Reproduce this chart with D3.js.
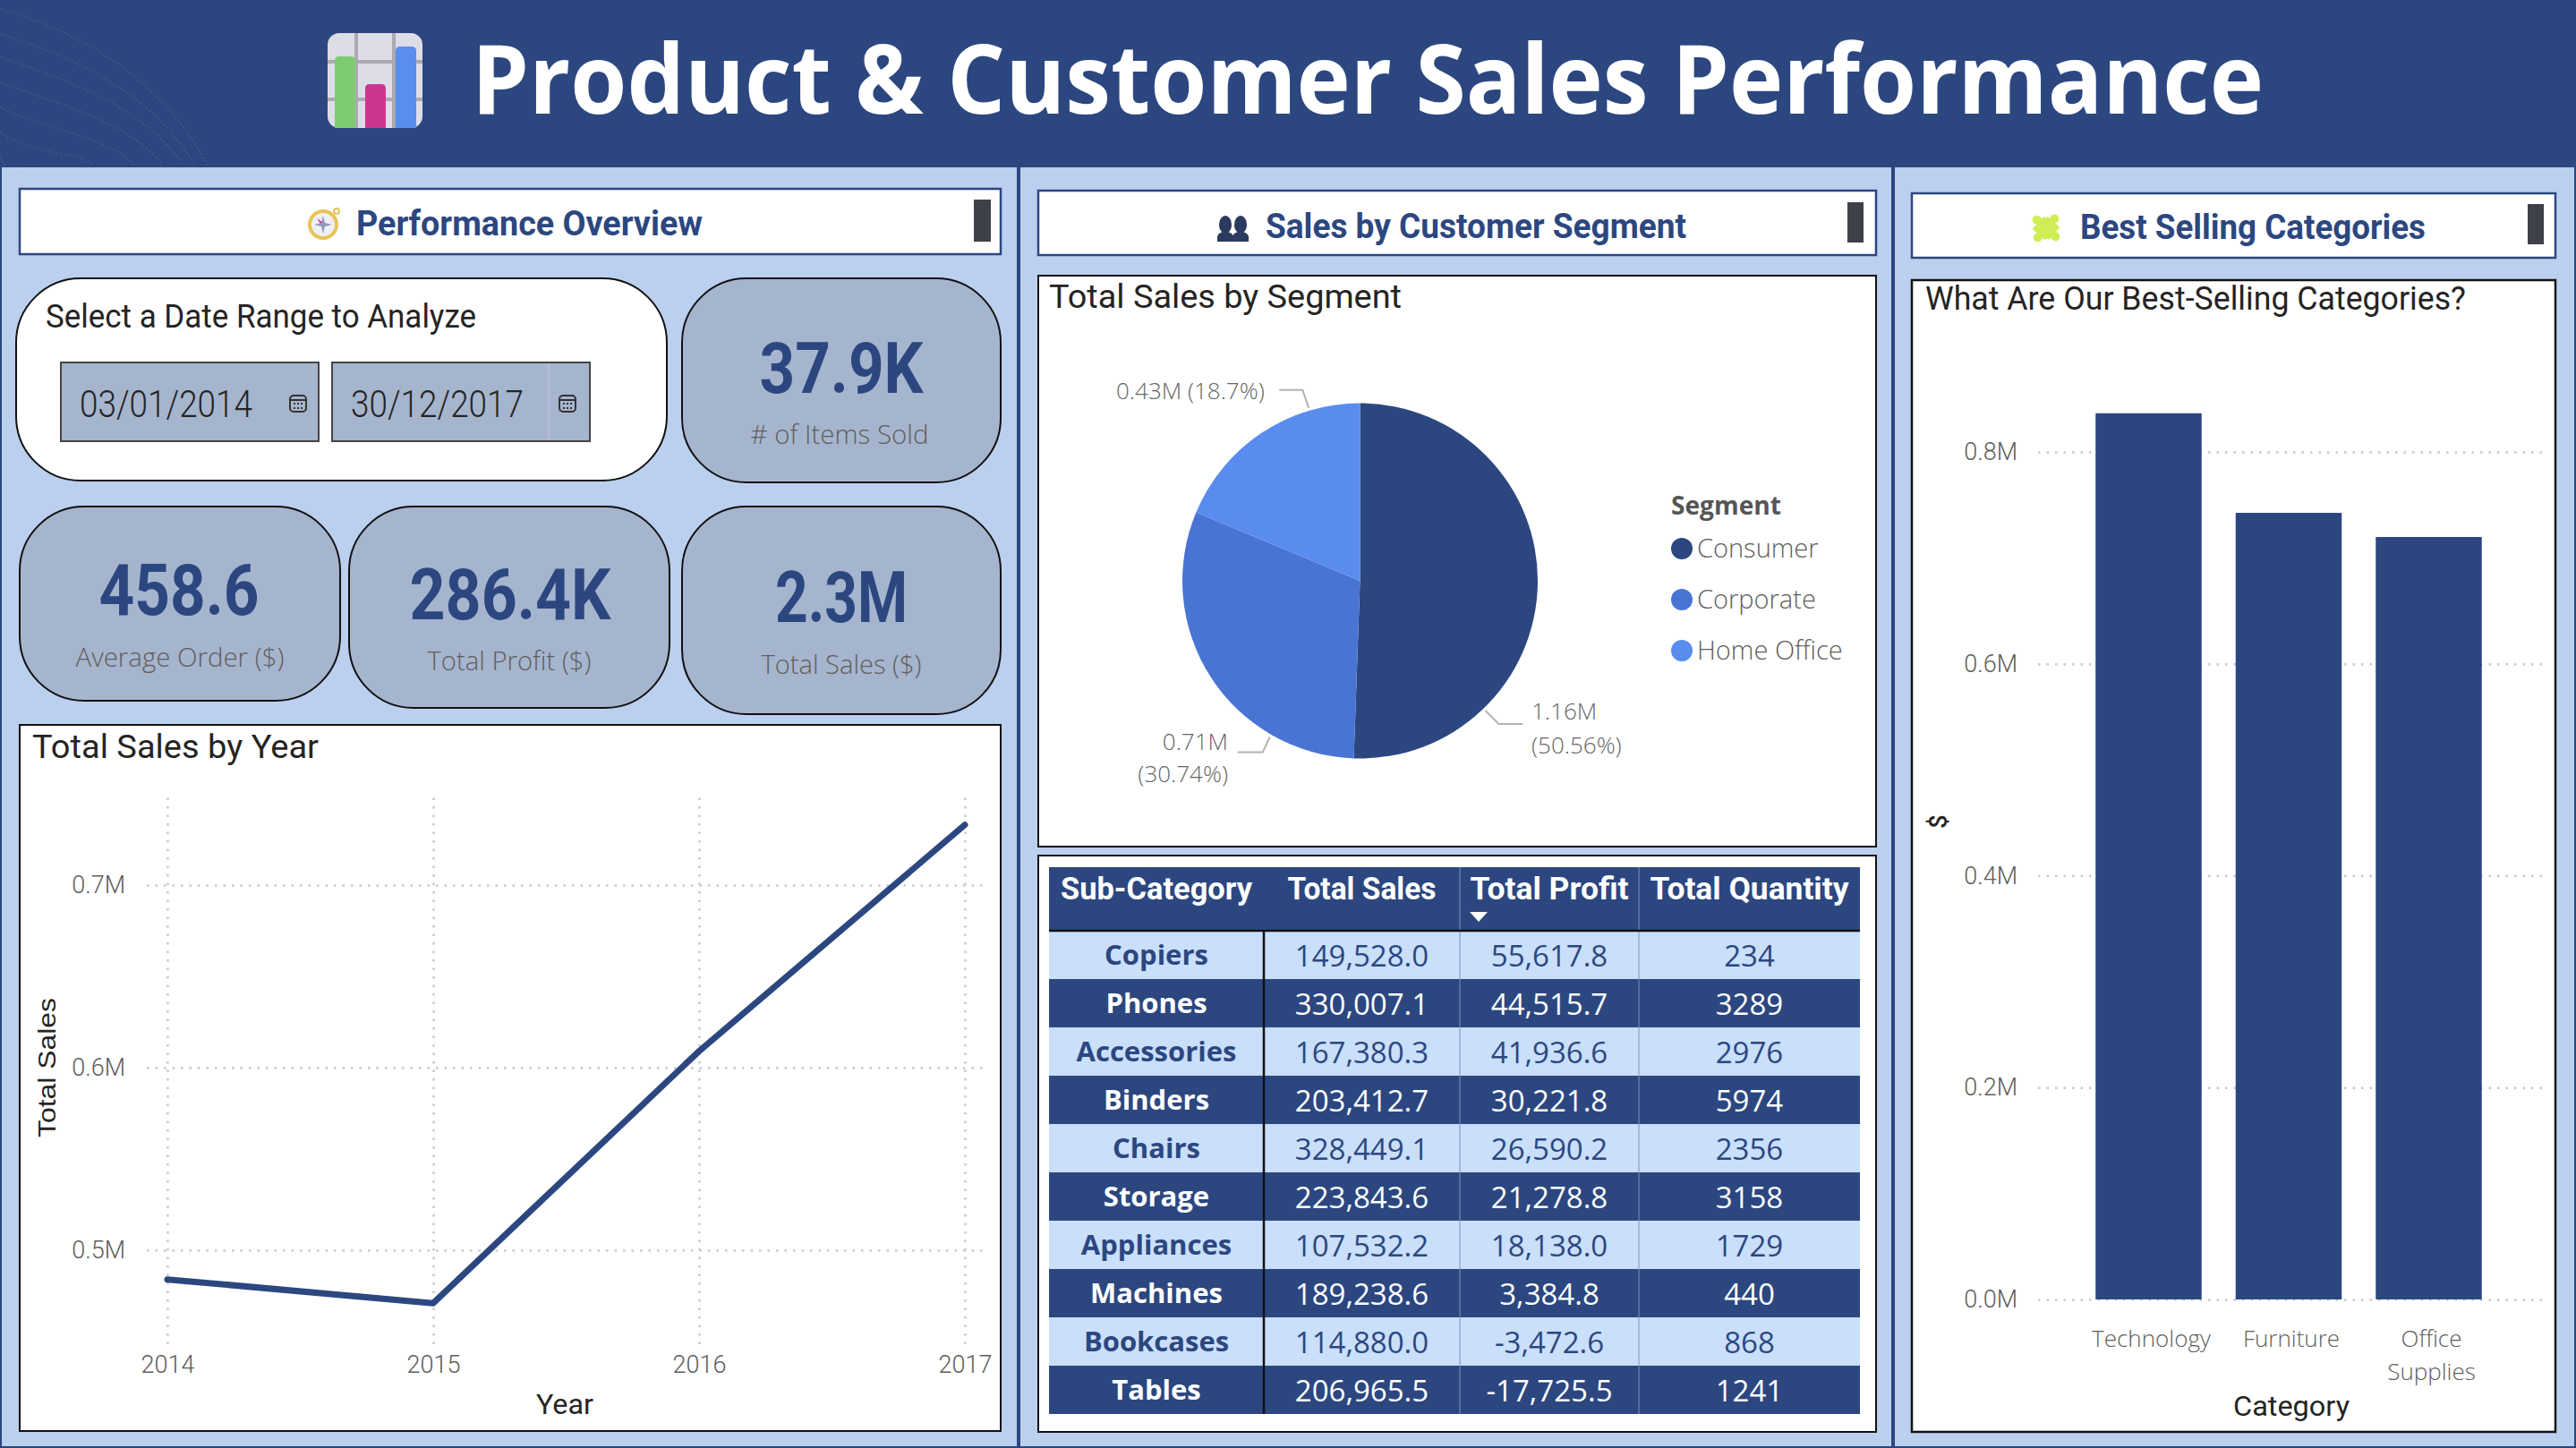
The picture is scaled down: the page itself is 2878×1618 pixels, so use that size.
<!DOCTYPE html>
<html lang="en">
<head>
<meta charset="utf-8">
<style>
  html, body { margin: 0; padding: 0; background: #bbcfee; }
  svg { display: block; }
  .grid line { stroke: #c6c8d6; stroke-width: 2.5; stroke-dasharray: 2.5 7; }
  .grid .domain { display: none; }
</style>
<script src="https://d3js.org/d3.v7.min.js"></script>
</head>
<body>
<svg id="dash" width="2878" height="1618"></svg>
<script>
// data
var years = ["2014", "2015", "2016", "2017"];
var yearSales = [0.484, 0.471, 0.609, 0.733];

var segments = ["Consumer", "Corporate", "Home Office"];
var segmentShare = [50.56, 30.74, 18.7];
var segmentSales = ["1.16M", "0.71M", "0.43M"];

var subCategories = ["Copiers", "Phones", "Accessories", "Binders", "Chairs", "Storage", "Appliances", "Machines", "Bookcases", "Tables"];
var subSales = [149528.0, 330007.1, 167380.3, 203412.7, 328449.1, 223843.6, 107532.2, 189238.6, 114880.0, 206965.5];
var subProfit = [55617.8, 44515.7, 41936.6, 30221.8, 26590.2, 21278.8, 18138.0, 3384.8, -3472.6, -17725.5];
var subQuantity = [234, 3289, 2976, 5974, 2356, 3158, 1729, 440, 868, 1241];
var tableHeaders = ["Sub-Category", "Total Sales", "Total Profit", "Total Quantity"];

var categories = ["Technology", "Furniture", "Office Supplies"];
var categorySales = [0.8365, 0.7425, 0.7197];

var kpiValues = ["37.9K", "458.6", "286.4K", "2.3M"];
var kpiLabels = ["# of Items Sold", "Average Order ($)", "Total Profit ($)", "Total Sales ($)"];
var dateRange = ["03/01/2014", "30/12/2017"];

// colours and fonts
var navy = "#2c4780", panelBg = "#bbcfee", kpiBg = "#a6b5ce", rowLight = "#c9dffa";
var segmentColors = ["#2c4780", "#4a74d3", "#5a8cf0"];
var din = "Roboto, sans-serif", segoe = "'Open Sans', sans-serif";

var svg = d3.select("#dash");

function box(g, x, y, w, h, fill, stroke, sw, r) {
  return g.append("rect").attr("x", x).attr("y", y).attr("width", w).attr("height", h)
    .attr("rx", r || 0).attr("fill", fill).attr("stroke", stroke).attr("stroke-width", sw);
}

// text helper, width squeezes the font to the width measured in the picture
function label(g, x, y, str, font, size, weight, fill, anchor, width) {
  var t = g.append("text").attr("x", x).attr("y", y).text(str)
    .attr("font-family", font).attr("font-size", size).attr("font-weight", weight)
    .attr("fill", fill).attr("text-anchor", anchor || "start");
  if (width) t.attr("textLength", width).attr("lengthAdjust", "spacingAndGlyphs");
  return t;
}

function styleTicks(g, size) {
  g.selectAll("text").attr("font-family", din).attr("font-size", size).attr("font-weight", 300).attr("fill", "#605e5c");
}

// page background and header
svg.append("rect").attr("width", 2878).attr("height", 1618).attr("fill", panelBg);
svg.append("rect").attr("width", 2878).attr("height", 186).attr("fill", navy);

// faint arcs in the header corner
var arcs = svg.append("g").attr("fill", "none").attr("stroke", "#fff").attr("stroke-opacity", 0.13)
  .attr("stroke-width", 1.5).attr("stroke-dasharray", "1.5 3");
[[10, 232], [38, 218], [64, 205], [92, 182], [120, 150], [148, 105], [176, 38]].forEach(function(a) {
  arcs.append("path").attr("d", "M0," + a[0] + " C" + a[1] * 0.45 + "," + (a[0] + 30) + " " + a[1] * 0.8 + "," + (a[0] + (185 - a[0]) * 0.5) + " " + a[1] + ",185");
});

// panel frames
svg.append("g").selectAll("line").data([1138, 2115]).enter().append("line")
  .attr("x1", function(d) { return d; }).attr("x2", function(d) { return d; })
  .attr("y1", 186).attr("y2", 1618).attr("stroke", navy).attr("stroke-width", 4);
svg.append("rect").attr("x", 1).attr("y", 186).attr("width", 2876).attr("height", 1431)
  .attr("fill", "none").attr("stroke", navy).attr("stroke-width", 2);

// title icon
var ico = svg.append("g");
box(ico, 366, 37, 106, 106, "#dddde8", "none", 0, 13);
[396, 438].forEach(function(x) { ico.append("rect").attr("x", x).attr("y", 37).attr("width", 4).attr("height", 106).attr("fill", "#aaaab0"); });
[67, 109].forEach(function(y) { ico.append("rect").attr("x", 366).attr("y", y).attr("width", 106).attr("height", 4).attr("fill", "#aaaab0"); });
[[374, 63, "#7fcb72"], [408, 94, "#cc3690"], [442, 52, "#5b8def"]].forEach(function(b) {
  ico.append("path").attr("fill", b[2])
    .attr("d", "M" + b[0] + ",143 V" + (b[1] + 5) + " Q" + b[0] + "," + b[1] + " " + (b[0] + 5) + "," + b[1] + " H" + (b[0] + 18) + " Q" + (b[0] + 23) + "," + b[1] + " " + (b[0] + 23) + "," + (b[1] + 5) + " V143 Z");
});
label(svg, 527, 127, "Product & Customer Sales Performance", segoe, 108, 700, "#fff", "start", 2002);

// section headers
var sections = [
  { x: 22, y: 211, w: 1096, h: 73, bx: 1088, by: 223, bw: 19, bh: 47, tx: 398, ty: 263, tw: 387, text: "Performance Overview" },
  { x: 1160, y: 213, w: 936, h: 72, bx: 2064, by: 226, bw: 18, bh: 45, tx: 1414, ty: 266, tw: 470, text: "Sales by Customer Segment" },
  { x: 2136, y: 216, w: 719, h: 72, bx: 2824, by: 228, bw: 18, bh: 45, tx: 2324, ty: 267, tw: 386, text: "Best Selling Categories" }
];
sections.forEach(function(s) {
  box(svg, s.x, s.y, s.w, s.h, "#fff", navy, 2.5);
  svg.append("rect").attr("x", s.bx).attr("y", s.by).attr("width", s.bw).attr("height", s.bh).attr("fill", "#3f4149");
  label(svg, s.tx, s.ty, s.text, din, 38, 700, navy, "start", s.tw);
});

// compass icon
var comp = svg.append("g").attr("transform", "translate(361,251)");
comp.append("circle").attr("cx", 15).attr("cy", -15).attr("r", 3).attr("fill", "#fff").attr("stroke", "#e8c455").attr("stroke-width", 2);
comp.append("circle").attr("r", 15).attr("fill", "#eef0f6").attr("stroke", "#e8c455").attr("stroke-width", 4);
comp.append("path").attr("fill", "#8f9ab8").attr("d", "M0,-10 L2,-2 L10,0 L2,2 L0,10 L-2,2 L-10,0 L-2,-2 Z");
comp.append("path").attr("fill", "#d6338f").attr("d", "M-7,-7 L-1,-3 L-3,-1 Z");

// two people icon
var people = svg.append("g").attr("fill", "#2b3a5f");
[1369, 1386].forEach(function(cx) {
  people.append("ellipse").attr("cx", cx).attr("cy", 251).attr("rx", 7).attr("ry", 10);
  people.append("path").attr("d", "M" + (cx - 9) + ",270 V265 Q" + (cx - 9) + ",261 " + (cx - 3) + ",259 H" + (cx + 3) + " Q" + (cx + 9) + ",261 " + (cx + 9) + ",265 V270 Z");
});

// puzzle icon, a knob on each side and two small notches
var puzzle = svg.append("g").attr("transform", "translate(2286,255) rotate(42)").attr("fill", "#cfee55");
puzzle.append("rect").attr("x", -11).attr("y", -11).attr("width", 22).attr("height", 22);
[[0, -14], [14, 0], [0, 14], [-14, 0]].forEach(function(k) {
  puzzle.append("circle").attr("cx", k[0]).attr("cy", k[1]).attr("r", 5);
});
[[-11, -11], [11, 11]].forEach(function(k) {
  puzzle.append("circle").attr("cx", k[0]).attr("cy", k[1]).attr("r", 3.5).attr("fill", "#fff");
});

// date range card
box(svg, 18, 311, 727, 226, "#fff", "#111", 2, 72);
label(svg, 51, 366, "Select a Date Range to Analyze", din, 36, 400, "#252423", "start", 481);
var dateBoxes = [{ x: 68, w: 288, tx: 89, ix: 333, rule: 0.25 }, { x: 371, w: 288, tx: 392, ix: 634, rule: 1 }];
dateBoxes.forEach(function(b, i) {
  box(svg, b.x, 405, b.w, 88, kpiBg, "#444", 2);
  svg.append("line").attr("x1", b.x + 242).attr("x2", b.x + 242).attr("y1", 406).attr("y2", 492)
    .attr("stroke", "#b8c3d6").attr("stroke-width", 1.5).attr("stroke-opacity", b.rule);
  label(svg, b.tx, 466, dateRange[i], din, 42, 300, "#252423", "start", 193);
  var c = svg.append("g").attr("fill", "none").attr("stroke", "#333").attr("stroke-width", 2);
  c.append("rect").attr("x", b.ix - 9).attr("y", 442).attr("width", 18).attr("height", 18).attr("rx", 4);
  c.append("line").attr("x1", b.ix - 9).attr("x2", b.ix + 9).attr("y1", 447).attr("y2", 447);
  c.append("path").attr("stroke-dasharray", "2 2").attr("d", "M" + (b.ix - 5) + ",451 H" + (b.ix + 6) + " M" + (b.ix - 5) + ",456 H" + (b.ix + 6));
});

// KPI cards
var kpiBoxes = [
  { x: 762, y: 311, w: 356, h: 228, cx: 940, vy: 439, vw: 183, lx: 938, ly: 496, lw: 199 },
  { x: 22, y: 566, w: 358, h: 217, cx: 200, vy: 687, vw: 179, lx: 201, ly: 745, lw: 233 },
  { x: 390, y: 566, w: 358, h: 225, cx: 570, vy: 692, vw: 225, lx: 569, ly: 749, lw: 183 },
  { x: 762, y: 566, w: 356, h: 232, cx: 940, vy: 695, vw: 148, lx: 940, ly: 753, lw: 179 }
];
kpiBoxes.forEach(function(b, i) {
  box(svg, b.x, b.y, b.w, b.h, kpiBg, "#111", 2, 72);
  label(svg, b.cx, b.vy, kpiValues[i], din, 80, 700, navy, "middle", b.vw);
  label(svg, b.lx, b.ly, kpiLabels[i], segoe, 29, 300, "#605e5c", "middle", b.lw);
});

// line chart
box(svg, 22, 810, 1096, 789, "#fff", "#111", 2);
label(svg, 36, 847, "Total Sales by Year", din, 37, 400, "#252423", "start", 320);

var xYear = d3.scalePoint().domain(years).range([187, 1078]);
var yYear = d3.scaleLinear().domain([0.45, 0.75]).range([1499, 887]);

var yAxisLine = svg.append("g").attr("class", "grid").attr("transform", "translate(164,0)")
  .call(d3.axisLeft(yYear).tickValues([0.5, 0.6, 0.7]).tickSize(-936).tickPadding(24).tickFormat(function(d) { return d.toFixed(1) + "M"; }));
styleTicks(yAxisLine, 27);
var xAxisLine = svg.append("g").attr("class", "grid").attr("transform", "translate(0,1502)")
  .call(d3.axisBottom(xYear).tickSize(-611).tickPadding(13));
styleTicks(xAxisLine, 27);

svg.append("path").datum(yearSales)
  .attr("fill", "none").attr("stroke", navy).attr("stroke-width", 7).attr("stroke-linecap", "round").attr("stroke-linejoin", "round")
  .attr("d", d3.line().x(function(d, i) { return xYear(years[i]); }).y(function(d) { return yYear(d); }));

label(svg, 631, 1580, "Year", din, 32, 400, "#252423", "middle", 64);
label(svg, 0, 0, "Total Sales", "'Liberation Sans', sans-serif", 28, 400, "#252423", "middle", 156)
  .attr("transform", "translate(62,1193) rotate(-90)");

// pie chart
box(svg, 1160, 308, 936, 638, "#fff", "#111", 2);
label(svg, 1172, 344, "Total Sales by Segment", din, 37, 400, "#252423", "start", 394);

var pieCx = 1519.5, pieCy = 649, pieR = 198.5;
var pie = d3.pie().sort(null)(segmentShare);
var arc = d3.arc().innerRadius(0).outerRadius(pieR);
svg.append("g").attr("transform", "translate(" + pieCx + "," + pieCy + ")")
  .selectAll("path").data(pie).enter().append("path")
  .attr("d", arc).attr("fill", function(d, i) { return segmentColors[i]; });

// leader lines: angle on the rim in degrees, then elbow and end offsets
var leaders = [
  { angle: 136, elbow: [15, 15], end: [42, 15] },
  { angle: 210, elbow: [-8, 17], end: [-36, 17] },
  { angle: 343.5, elbow: [-7, -20], end: [-33, -20] }
];
leaders.forEach(function(l) {
  var a = l.angle * Math.PI / 180;
  var px = pieCx + Math.sin(a) * (pieR + 3), py = pieCy - Math.cos(a) * (pieR + 3);
  svg.append("path").attr("fill", "none").attr("stroke", "#b3b3b3").attr("stroke-width", 2)
    .attr("d", d3.line()([[px, py], [px + l.elbow[0], py + l.elbow[1]], [px + l.end[0], py + l.end[1]]]));
});
var pieText = "#666";
label(svg, 1711, 804, segmentSales[0], segoe, 26, 300, pieText);
label(svg, 1711, 842, "(" + segmentShare[0] + "%)", segoe, 26, 300, pieText);
label(svg, 1372, 838, segmentSales[1], segoe, 26, 300, pieText, "end");
label(svg, 1372, 874, "(" + segmentShare[1] + "%)", segoe, 26, 300, pieText, "end");
label(svg, 1247, 446, segmentSales[2] + " (" + segmentShare[2] + "%)", segoe, 26, 300, pieText);

// pie legend
label(svg, 1867, 575, "Segment", segoe, 28, 700, "#555", "start", 123);
var yLegend = d3.scalePoint().domain(segments).range([613, 727]);
segments.forEach(function(s, i) {
  svg.append("circle").attr("cx", 1879).attr("cy", yLegend(s)).attr("r", 12).attr("fill", segmentColors[i]);
  label(svg, 1896, yLegend(s) + 10, s, segoe, 29, 300, "#605e5c");
});

// table
box(svg, 1160, 956, 936, 644, "#fff", "#111", 2);
var colEdges = [1172, 1412, 1631, 1831, 2078];
var colMid = function(i) { return (colEdges[i] + colEdges[i + 1]) / 2; };
var yRow = d3.scaleBand().domain(subCategories).range([1040, 1580]);
var fmt = d3.formatLocale({ decimal: ".", thousands: ",", grouping: [3], currency: ["$", ""], minus: "-" }).format(",.1f");

svg.append("rect").attr("x", colEdges[0]).attr("y", 969).attr("width", colEdges[4] - colEdges[0]).attr("height", 71).attr("fill", navy);
var headWidths = [214, 166, 177, 222];
tableHeaders.forEach(function(h, i) {
  label(svg, colMid(i), 1005, h, din, 35, 700, "#fff", "middle", headWidths[i]);
});
svg.append("path").attr("fill", "#fff").attr("d", "M1642,1019 H1662 L1652,1030 Z");

var rows = svg.append("g").selectAll("g").data(subCategories).enter().append("g")
  .attr("transform", function(d) { return "translate(0," + yRow(d) + ")"; });
rows.append("rect").attr("x", colEdges[0]).attr("width", colEdges[4] - colEdges[0]).attr("height", yRow.bandwidth())
  .attr("fill", function(d, i) { return i % 2 ? navy : rowLight; });
rows.each(function(d, i) {
  var row = d3.select(this), ink = i % 2 ? "#fff" : navy;
  label(row, colMid(0), 38, d, segoe, 31, 700, ink, "middle");
  label(row, colMid(1), 40, fmt(subSales[i]), segoe, 33, 400, ink, "middle");
  label(row, colMid(2), 40, fmt(subProfit[i]), segoe, 33, 400, ink, "middle");
  label(row, colMid(3), 40, subQuantity[i], segoe, 33, 400, ink, "middle");
});
// column rules
svg.append("g").selectAll("line").data(colEdges.slice(2, 4)).enter().append("line")
  .attr("x1", function(d) { return d; }).attr("x2", function(d) { return d; })
  .attr("y1", 969).attr("y2", 1580).attr("stroke", "#7f93bd").attr("stroke-width", 1);
svg.append("line").attr("x1", colEdges[1]).attr("x2", colEdges[1]).attr("y1", 1040).attr("y2", 1580).attr("stroke", "#111").attr("stroke-width", 2.5);
svg.append("line").attr("x1", colEdges[0]).attr("x2", colEdges[4]).attr("y1", 1040).attr("y2", 1040).attr("stroke", "#111").attr("stroke-width", 2.5);

// bar chart
box(svg, 2136, 313, 719, 1287, "#fff", "#111", 2.5);
label(svg, 2151, 346, "What Are Our Best-Selling Categories?", din, 37, 400, "#252423", "start", 604);

var xCat = d3.scaleBand().domain(categories).range([2263, 2851]).paddingInner(0.243).paddingOuter(0.5);
var yCat = d3.scaleLinear().domain([0, 0.8]).range([1452, 505]);

var yAxisBar = svg.append("g").attr("class", "grid").attr("transform", "translate(2277,0)")
  .call(d3.axisLeft(yCat).tickValues([0, 0.2, 0.4, 0.6, 0.8]).tickSize(-565).tickPadding(23).tickFormat(function(d) { return d.toFixed(1) + "M"; }));
styleTicks(yAxisBar, 27);

svg.append("g").selectAll("rect").data(categorySales).enter().append("rect")
  .attr("x", function(d, i) { return xCat(categories[i]); })
  .attr("y", function(d) { return yCat(d); })
  .attr("width", xCat.bandwidth())
  .attr("height", function(d) { return yCat(0) - yCat(d); })
  .attr("fill", navy);

var xAxisBar = svg.append("g").attr("transform", "translate(3,1452)")
  .call(d3.axisBottom(xCat).tickSize(0).tickPadding(0));
xAxisBar.select(".domain").remove();
xAxisBar.selectAll("text").attr("font-family", segoe).attr("font-size", 26).attr("font-weight", 300).attr("fill", "#605e5c")
  .each(function(d) {
    var t = d3.select(this), words = d === "Office Supplies" ? d.split(" ") : [d];
    t.text(null);
    words.forEach(function(w, i) { t.append("tspan").attr("x", 0).attr("y", 53 + i * 37).attr("dy", 0).text(w); });
  });

label(svg, 2560, 1582, "Category", din, 32, 400, "#252423", "middle", 130);
label(svg, 0, 0, "$", din, 27, 500, "#252423", "middle").attr("transform", "translate(2175,918) rotate(-90)");
</script>
</body>
</html>
